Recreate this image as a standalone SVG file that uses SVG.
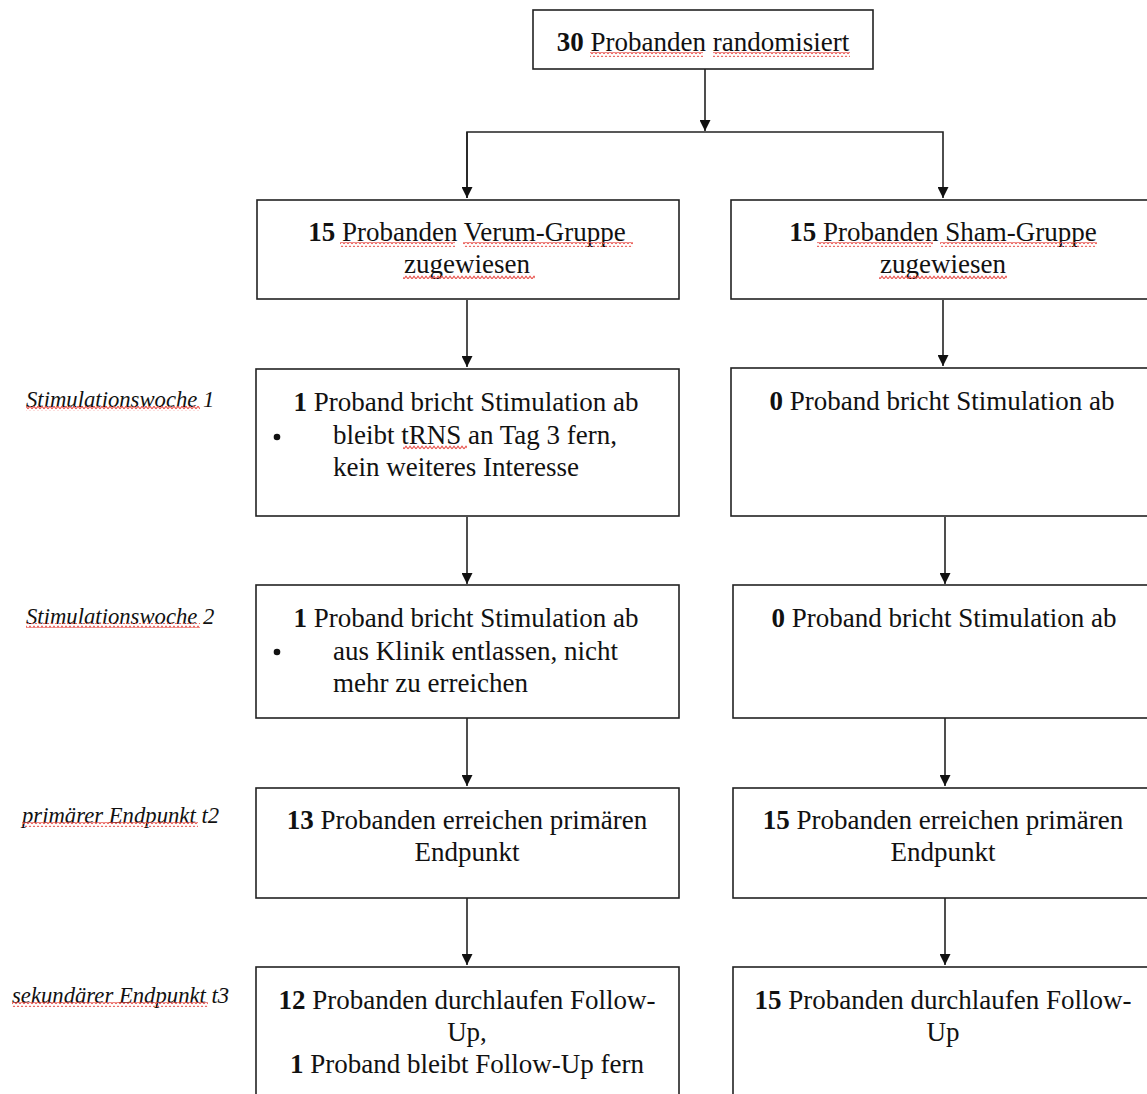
<svg xmlns="http://www.w3.org/2000/svg" width="1147" height="1094" viewBox="0 0 1147 1094">
<style>
.box{fill:#fff;stroke:#222;stroke-width:1.6}
.t{font-family:"Liberation Serif","Times New Roman",serif;font-size:27px;fill:#111}
.c{text-anchor:middle}
.b{font-weight:bold}
.lab{font-family:"Liberation Serif","Times New Roman",serif;font-size:22.7px;font-style:italic;fill:#111}
.ln{fill:none;stroke:#222;stroke-width:1.6}
.sq{fill:url(#wavy)}
</style>
<defs>
<marker id="ah" viewBox="0 0 10 10" refX="10" refY="5" markerWidth="11" markerHeight="11" markerUnits="userSpaceOnUse" orient="auto">
<path d="M0,0 L10,5 L0,10 z" fill="#111"/>
</marker>
<pattern id="wavy" patternUnits="userSpaceOnUse" width="4" height="5" x="0" y="0">
<polyline points="0,3.8 2,1.2 4,3.8" fill="none" stroke="#e8524c" stroke-width="1.1"/>
</pattern>
</defs>
<rect width="1147" height="1094" fill="#fff"/>

<g id="connectors">
<line class="ln" x1="705" y1="69" x2="705" y2="131" marker-end="url(#ah)"/>
<polyline class="ln" points="467,198 467,132 943,132 943,198" marker-end="url(#ah)"/>
<line class="ln" x1="467" y1="132" x2="467" y2="198" marker-end="url(#ah)"/>
<line class="ln" x1="467" y1="300" x2="467" y2="367" marker-end="url(#ah)"/>
<line class="ln" x1="943" y1="300" x2="943" y2="366" marker-end="url(#ah)"/>
<line class="ln" x1="467" y1="517" x2="467" y2="584" marker-end="url(#ah)"/>
<line class="ln" x1="945" y1="517" x2="945" y2="584" marker-end="url(#ah)"/>
<line class="ln" x1="467" y1="718" x2="467" y2="786" marker-end="url(#ah)"/>
<line class="ln" x1="945" y1="718" x2="945" y2="786" marker-end="url(#ah)"/>
<line class="ln" x1="467" y1="898" x2="467" y2="965" marker-end="url(#ah)"/>
<line class="ln" x1="945" y1="898" x2="945" y2="965" marker-end="url(#ah)"/>
</g>

<g id="labels">
<text class="lab" x="26" y="407">Stimulationswoche 1</text>
<rect class="sq" x="26" y="406" width="174" height="5"/>
<text class="lab" x="26" y="624">Stimulationswoche 2</text>
<rect class="sq" x="26" y="623" width="174" height="5"/>
<text class="lab" x="22" y="823">primärer Endpunkt t2</text>
<rect class="sq" x="22" y="822" width="176" height="5"/>
<text class="lab" x="12" y="1003">sekundärer Endpunkt t3</text>
<rect class="sq" x="12" y="1002" width="196" height="5"/>
</g>

<g id="n_random">
<rect class="box" x="533" y="10" width="340" height="59"/>
<text class="t c" x="703" y="51"><tspan class="b">30</tspan> Probanden randomisiert</text>
<rect class="sq" x="590" y="52" width="113" height="5"/>
<rect class="sq" x="713" y="52" width="137" height="5"/>
</g>

<g id="n_verum">
<rect class="box" x="257" y="200" width="422" height="99"/>
<text class="t c" x="467" y="241"><tspan class="b">15</tspan> Probanden Verum-Gruppe</text>
<text class="t c" x="467" y="273">zugewiesen</text>
<rect class="sq" x="340" y="242" width="115" height="5"/>
<rect class="sq" x="463" y="242" width="170" height="5"/>
<rect class="sq" x="403" y="274" width="132" height="5"/>
</g>

<g id="n_sham">
<rect class="box" x="731" y="200" width="440" height="99"/>
<text class="t c" x="943" y="241"><tspan class="b">15</tspan> Probanden Sham-Gruppe</text>
<text class="t c" x="943" y="273">zugewiesen</text>
<rect class="sq" x="817" y="242" width="116" height="5"/>
<rect class="sq" x="940" y="242" width="157" height="5"/>
<rect class="sq" x="879" y="274" width="128" height="5"/>
</g>

<g id="n_v_week1">
<rect class="box" x="256" y="369" width="423" height="147"/>
<text class="t c" x="466" y="411"><tspan class="b">1</tspan> Proband bricht Stimulation ab</text>
<circle cx="277" cy="437" r="3.3" fill="#111"/>
<text class="t" x="333" y="444">bleibt tRNS an Tag 3 fern,</text>
<text class="t" x="333" y="476">kein weiteres Interesse</text>
<rect class="sq" x="403" y="445" width="64" height="5"/>
</g>

<g id="n_s_week1">
<rect class="box" x="731" y="368" width="440" height="148"/>
<text class="t c" x="942" y="410"><tspan class="b">0</tspan> Proband bricht Stimulation ab</text>
</g>

<g id="n_v_week2">
<rect class="box" x="256" y="585" width="423" height="133"/>
<text class="t c" x="466" y="627"><tspan class="b">1</tspan> Proband bricht Stimulation ab</text>
<circle cx="277" cy="652" r="3.3" fill="#111"/>
<text class="t" x="333" y="660">aus Klinik entlassen, nicht</text>
<text class="t" x="333" y="692">mehr zu erreichen</text>
</g>

<g id="n_s_week2">
<rect class="box" x="733" y="585" width="440" height="133"/>
<text class="t c" x="944" y="627"><tspan class="b">0</tspan> Proband bricht Stimulation ab</text>
</g>

<g id="n_v_t2">
<rect class="box" x="256" y="788" width="423" height="110"/>
<text class="t c" x="467" y="829"><tspan class="b">13</tspan> Probanden erreichen primären</text>
<text class="t c" x="467" y="861">Endpunkt</text>
</g>

<g id="n_s_t2">
<rect class="box" x="733" y="788" width="440" height="110"/>
<text class="t c" x="943" y="829"><tspan class="b">15</tspan> Probanden erreichen primären</text>
<text class="t c" x="943" y="861">Endpunkt</text>
</g>

<g id="n_v_t3">
<rect class="box" x="256" y="967" width="423" height="140"/>
<text class="t c" x="467" y="1009"><tspan class="b">12</tspan> Probanden durchlaufen Follow-</text>
<text class="t c" x="467" y="1041">Up,</text>
<text class="t c" x="467" y="1073"><tspan class="b">1</tspan> Proband bleibt Follow-Up fern</text>
</g>

<g id="n_s_t3">
<rect class="box" x="733" y="967" width="440" height="140"/>
<text class="t c" x="943" y="1009"><tspan class="b">15</tspan> Probanden durchlaufen Follow-</text>
<text class="t c" x="943" y="1041">Up</text>
</g>
</svg>
